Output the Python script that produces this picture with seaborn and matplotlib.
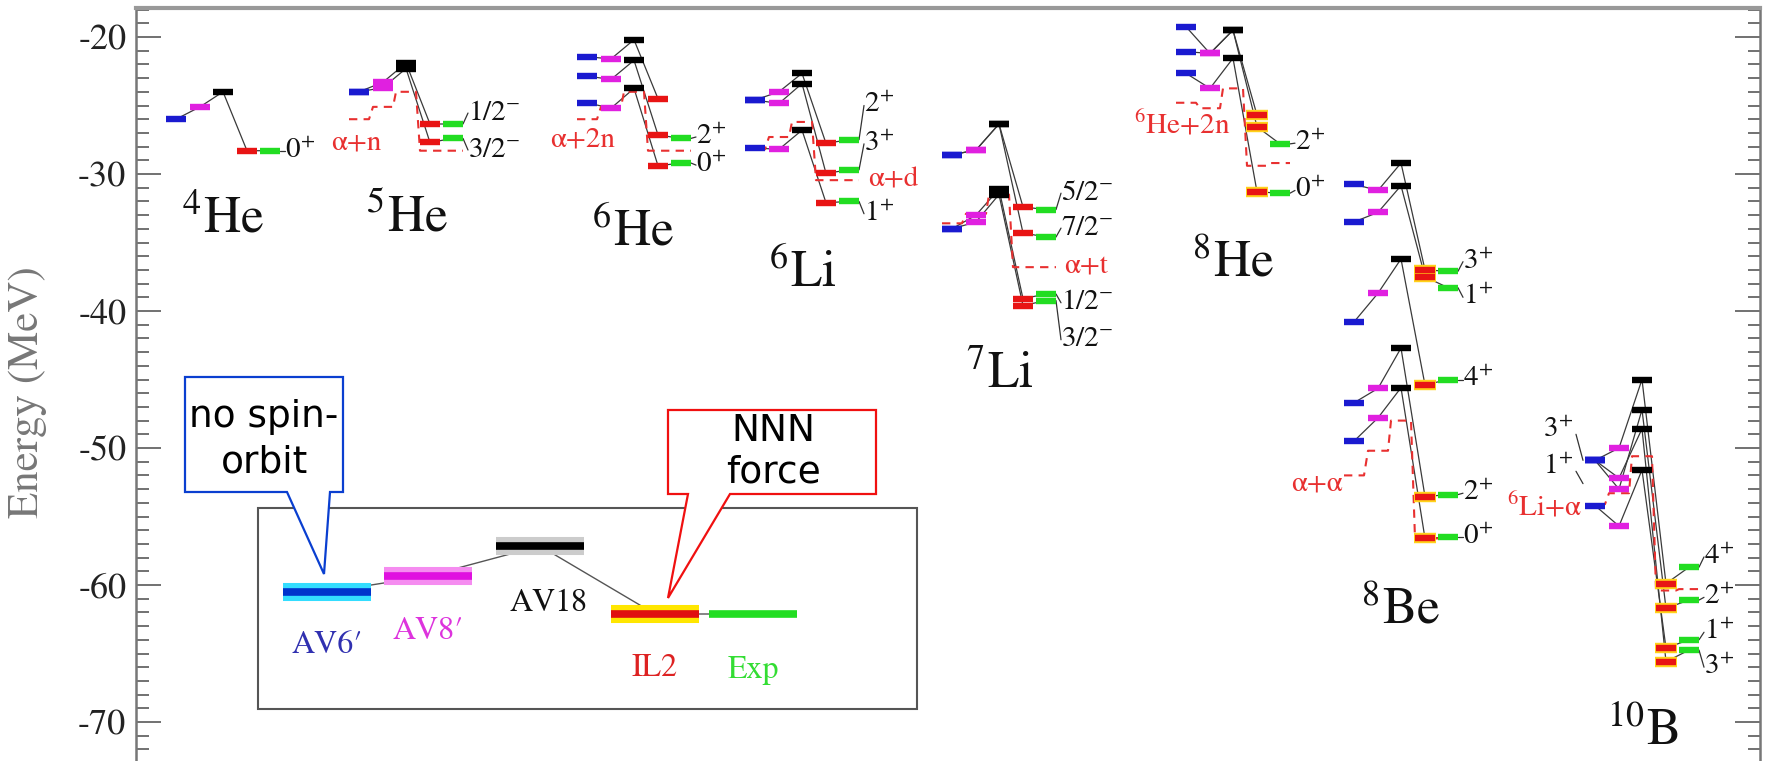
"""
Light-nuclei energy spectra: AV6', AV8', AV18, IL2 vs experiment.
Level diagram redrawn with seaborn/matplotlib.
"""

import matplotlib
matplotlib.use("Agg")
import numpy as np
import pandas as pd
import matplotlib.pyplot as plt
from matplotlib.patches import Polygon, Rectangle
from matplotlib.ticker import MultipleLocator
import seaborn as sns

W, H = 1776, 761   # output size in pixels (dpi 100)

MODELS = ["AV6\u2032", "AV8\u2032", "AV18", "IL2", "Exp"]
MODEL_COLORS = ["#1a1ad0", "#e020e0", "#000000", "#e81414", "#22dd22"]

# Energies in MeV, one row per state, columns = AV6', AV8', AV18, IL2, Exp
he4_levels = [[-26.0, -25.1, -24.0, -28.3, -28.3]]
he4_spins = ["0+"]
he4_spin_e = [-28.3]

he5_levels = [[-24.0, -23.7, -22.3, -27.7, -27.4],
              [-24.0, -23.3, -21.9, -26.35, -26.35]]
he5_spins = ["3/2-", "1/2-"]
he5_spin_e = [-28.25, -25.55]
he5_thresh = [-26.0, -25.1, -24.0, -28.3, -28.3]

he6_levels = [[-24.8, -25.2, -23.75, -29.4, -29.2],
              [-22.85, -23.1, -21.7, -27.15, -27.4],
              [-21.44, -21.6, -20.2, -24.5, None]]
he6_spins = ["0+", "2+", None]
he6_spin_e = [-29.35, -27.3, None]
he6_thresh = [-26.0, -25.1, -24.0, -28.3, -28.3]

li6_levels = [[-28.1, -28.2, -26.8, -32.1, -32.0],
              [-24.6, -24.85, -23.4, -29.95, -29.7],
              [-24.6, -24.0, -22.65, -27.76, -27.5]]
li6_spins = ["1+", "3+", "2+"]
li6_spin_e = [-32.9, -27.8, -25.0]
li6_thresh = [-28.2, -27.3, -26.2, -30.45, -30.45]

li7_levels = [[-34.0, -33.5, -31.5, -39.6, -39.24],
              [-34.0, -33.0, -31.1, -39.1, -38.76],
              [-28.6, -28.25, -26.35, -34.3, -34.6],
              [-28.6, -28.25, -26.35, -32.4, -32.6]]
li7_spins = ["3/2-", "1/2-", "7/2-", "5/2-"]
li7_spin_e = [-42.1, -39.4, -33.95, -31.4]
li7_thresh = [-33.6, -32.9, -31.5, -36.8, -36.8]

he8_levels = [[-22.65, -23.75, -21.55, -31.3, -31.4],
              [-21.07, -21.2, -19.5, -26.55, -27.8],
              [-19.25, -21.2, -19.5, -25.7, None]]
he8_spins = ["0+", "2+", None]
he8_spin_e = [-31.2, -27.75, None]
he8_thresh = [-24.8, -25.2, -23.75, -29.4, -29.2]

be8_levels = [[-49.5, -47.8, -45.6, -56.6, -56.5],
              [-46.7, -45.65, -42.7, -53.55, -53.4],
              [-40.8, -38.7, -36.2, -45.4, -45.0],
              [-33.5, -32.8, -30.85, -37.5, -38.3],
              [-30.75, -31.2, -29.2, -37.0, -37.1]]
be8_spins = ["0+", "2+", "4+", "1+", "3+"]
be8_spin_e = [-56.5, -53.3, -45.0, -39.0, -36.4]
be8_thresh = [-52.0, -50.2, -48.0, -56.6, -56.6]

b10_levels = [[-50.9, -52.2, -48.6, -65.6, -64.75],
              [-54.2, -55.7, -51.6, -64.6, -64.0],
              [-50.9, -53.0, -47.2, -61.7, -61.1],
              [-50.9, -50.0, -45.0, -59.9, -58.7]]
b10_spins = ["3+", "1+", "2+", "4+"]
b10_spin_e = [-66.0, -63.45, -60.9, -57.95]
b10_thresh = [-54.1, -53.3, -50.6, -60.4, -60.3]
b10_av6_spins = ["3+", "1+"]
b10_av6_spin_e = [-48.7, -51.4]

nuc_mass = ["4", "5", "6", "6", "7", "8", "8", "10"]
nuc_symbol = ["He", "He", "He", "Li", "Li", "He", "Be", "B"]
thresh_names = [None, "\u03b1+n", "\u03b1+2n", "\u03b1+d", "\u03b1+t",
                "$^{6}$He+2n", "\u03b1+\u03b1", "$^{6}$Li+\u03b1"]

all_levels = [he4_levels, he5_levels, he6_levels, li6_levels,
              li7_levels, he8_levels, be8_levels, b10_levels]
all_spins = [he4_spins, he5_spins, he6_spins, li6_spins,
             li7_spins, he8_spins, be8_spins, b10_spins]
all_spin_e = [he4_spin_e, he5_spin_e, he6_spin_e, li6_spin_e,
              li7_spin_e, he8_spin_e, be8_spin_e, b10_spin_e]
all_thresh = [None, he5_thresh, he6_thresh, li6_thresh,
              li7_thresh, he8_thresh, be8_thresh, b10_thresh]

# ---- layout (pixels for x, MeV for y) ----
COL_X = [166, 349, 577, 745, 942, 1176, 1344, 1585]
OFFS = [0, 24, 47, 71, 94]
BAR_W = 20
NAME_POS = [(223, -34.3), (407, -34.2), (633, -35.2), (803, -38.25),
            (1000, -45.6), (1233, -37.45), (1401, -62.8), (1643, -71.7)]
THRESH_LABEL_POS = [None, (381, -27.75, "right"), (615, -27.5, "right"),
                    (868, -30.45, "left"), (1064, -36.8, "left"),
                    (1231, -26.4, "right"), (1343, -52.6, "right"),
                    (1582, -54.3, "right")]
HALO = [False, False, False, False, False, True, True, True]


def px_to_e(y):
    return -20.0 - (y - 37.0) / 13.7


def fig_xy(x, y):
    return (x / W, 1.0 - y / H)


def spin_tex(s):
    return "$%s^{%s}$" % (s[:-1], s[-1])


sns.set_theme(style="ticks")
plt.rcParams["font.family"] = ["STIXGeneral", "DejaVu Sans"]
plt.rcParams["mathtext.fontset"] = "stix"
plt.rcParams["axes.unicode_minus"] = False

fig = plt.figure(figsize=(W / 100, H / 100), dpi=100)
fig.patch.set_facecolor("white")
ax = fig.add_axes([136 / W, 0.0, (1760 - 136) / W, (H - 8) / H])
ax.set_facecolor("white")
ax.set_xlim(136, 1760)
ax.set_ylim(px_to_e(H), px_to_e(8))

# connector lines (one chain per state, through the five models)
rows = []
for k, levels in enumerate(all_levels):
    for s, lev in enumerate(levels):
        for m, e in enumerate(lev):
            if e is None:
                continue
            rows.append({"chain": f"{k}-{s}", "x": COL_X[k] + OFFS[m] + BAR_W / 2,
                         "E": e, "model": m, "nuc": k})
levels_df = pd.DataFrame(rows)

sns.lineplot(data=levels_df, x="x", y="E", units="chain", estimator=None,
             sort=False, color="#3a3a3a", linewidth=0.9, legend=False,
             ax=ax, zorder=2)

# threshold lines (dashed red)
for k, th in enumerate(all_thresh):
    if th is None:
        continue
    xs, ys = [], []
    for m, t in enumerate(th):
        xs += [COL_X[k] + OFFS[m], COL_X[k] + OFFS[m] + BAR_W]
        ys += [t, t]
    ax.plot(xs, ys, color="#e83030", lw=1.5, ls=(0, (4, 3)), zorder=2.5)
    lx, ly, ha = THRESH_LABEL_POS[k]
    ax.text(lx, ly, thresh_names[k], color="#e83030", fontsize=21,
            ha=ha, va="center", zorder=5)

# level bars
for _, r in levels_df.iterrows():
    x0 = r["x"] - BAR_W / 2
    if r["model"] == 3 and HALO[int(r["nuc"])]:
        ax.hlines(r["E"], x0 - 1, x0 + BAR_W + 1, color="#ffd21a",
                  lw=7.5, zorder=3)
    ax.hlines(r["E"], x0, x0 + BAR_W, color=MODEL_COLORS[int(r["model"])],
              lw=4.6, zorder=4)

# spin labels next to experimental levels
for k, levels in enumerate(all_levels):
    gx = COL_X[k] + OFFS[4] + BAR_W
    for s, lev in enumerate(levels):
        lab = all_spins[k][s]
        if lab is None:
            continue
        le = all_spin_e[k][s]
        ax.plot([gx, gx + 5], [lev[4], le], color="#333", lw=0.9, zorder=3)
        ax.text(gx + 5, le, spin_tex(lab), fontsize=21, ha="left",
                va="center", color="#111")

# AV6' labels on the left of 10B
bx = COL_X[7]
for lab, le, tgt in zip(b10_av6_spins, b10_av6_spin_e, [-50.9, -52.6]):
    ax.plot([bx - 9, bx - 2], [le - 0.3, tgt], color="#333", lw=0.9)
    ax.text(bx - 12, le, spin_tex(lab), fontsize=21, ha="right",
            va="center", color="#111")

# nucleus names
for k in range(len(nuc_mass)):
    nx, ny = NAME_POS[k]
    ax.text(nx, ny, r"$^{%s}$%s" % (nuc_mass[k], nuc_symbol[k]),
            fontsize=37, ha="center", va="baseline", color="#111")

# axes styling
ax.yaxis.set_major_locator(MultipleLocator(10))
ax.yaxis.set_minor_locator(MultipleLocator(1))
ax.set_xticks([])
ax.set_xlabel("")
ax.set_ylabel("")
ax.tick_params(axis="y", which="both", direction="in", left=True,
               right=True, colors="#666", labelcolor="#222")
ax.tick_params(axis="y", which="major", length=18, width=1.3,
               labelsize=26, pad=7)
ax.tick_params(axis="y", which="minor", length=9, width=1.3)
for side in ["left", "right"]:
    ax.spines[side].set_color("#777")
    ax.spines[side].set_linewidth(1.8)
ax.spines["top"].set_color("#999")
ax.spines["top"].set_linewidth(3)
ax.spines["bottom"].set_visible(False)

fig.text(*fig_xy(28, 392), "Energy (MeV)", rotation=90, fontsize=31,
         ha="center", va="center", color="#777")

# ---- legend inset ----
fig.add_artist(Rectangle(fig_xy(258, 709), (917 - 258) / W, (709 - 508) / H,
                         transform=fig.transFigure, fill=False,
                         edgecolor="#555", lw=1.5, zorder=6))
key_cx = [327, 428, 540, 655, 753]
key_y = [592, 576, 546, 614, 614]
key_halo = ["#33ddff", "#f58cf0", "#cccccc", "#ffe600", None]
key_core = ["#0033cc", "#e010e0", "#000000", "#e01010", "#22dd22"]
key_lab_y = [645, 631, 603, 668, 670]
key_lab_col = ["#3030b0", "#dd33dd", "#111111", "#dd2222", "#33dd33"]
kx = [fig_xy(x, y)[0] for x, y in zip(key_cx, key_y)]
ky = [fig_xy(x, y)[1] for x, y in zip(key_cx, key_y)]
fig.add_artist(plt.Line2D(kx, ky, transform=fig.transFigure, color="#555",
                          lw=1.0, zorder=6))
for i in range(5):
    x0, y0 = fig_xy(key_cx[i] - 44, key_y[i])
    x1 = fig_xy(key_cx[i] + 44, key_y[i])[0]
    if key_halo[i]:
        fig.add_artist(plt.Line2D([x0, x1], [y0, y0], transform=fig.transFigure,
                                  color=key_halo[i], lw=13, zorder=6.5,
                                  solid_capstyle="butt"))
    fig.add_artist(plt.Line2D([x0, x1], [y0, y0], transform=fig.transFigure,
                              color=key_core[i], lw=5.5, zorder=7,
                              solid_capstyle="butt"))
    lx, ly = fig_xy(key_cx[i] + (8 if i == 2 else 0), key_lab_y[i])
    fig.text(lx, ly, MODELS[i], fontsize=23, ha="center", va="center",
             color=key_lab_col[i], zorder=7)

# ---- callouts ----
blue_pts = [(185, 377), (343, 377), (343, 492), (330, 492), (324, 574),
            (287, 492), (185, 492)]
red_pts = [(668, 410), (876, 410), (876, 494), (730, 494), (668, 598),
           (688, 494), (668, 494)]
for pts, col in [(blue_pts, "#0a3fd0"), (red_pts, "#f01010")]:
    fig.add_artist(Polygon([fig_xy(x, y) for x, y in pts], closed=True,
                           transform=fig.transFigure, facecolor="white",
                           edgecolor=col, lw=1.6, zorder=8))
fig.text(*fig_xy(264, 440), "no spin-\norbit", fontsize=27,
         family="DejaVu Sans", ha="center", va="center", linespacing=1.35,
         color="#000", zorder=9)
fig.text(*fig_xy(773, 452), "NNN\nforce", fontsize=27,
         family="DejaVu Sans", ha="center", va="center", linespacing=1.2,
         color="#000", zorder=9)

fig.savefig("out.png", dpi=100, facecolor="white")
